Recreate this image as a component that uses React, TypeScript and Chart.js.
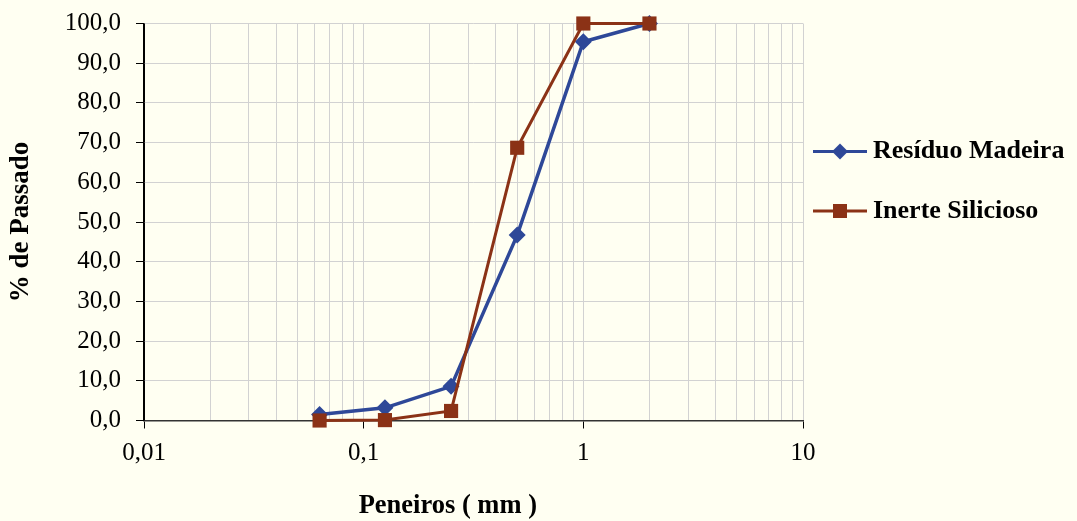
import React, { useEffect, useRef } from 'react';
import { Chart, registerables } from 'chart.js';

Chart.register(...registerables);

// ---- data ----
const sieveSizes = [0.063, 0.125, 0.25, 0.5, 1, 2];
const residuoMadeira = [1.5, 3.2, 8.6, 46.7, 95.4, 100.0];
const inerteSilicioso = [0.0, 0.1, 2.4, 68.7, 100.0, 100.0];
const seriesLabels = ['Resíduo Madeira', 'Inerte Silicioso'];
const seriesColors = ['#2E4898', '#8B3216'];

const xTickValues = [
  0.01, 0.02, 0.03, 0.04, 0.05, 0.06, 0.07, 0.08, 0.09,
  0.1, 0.2, 0.3, 0.4, 0.5, 0.6, 0.7, 0.8, 0.9,
  1, 2, 3, 4, 5, 6, 7, 8, 9,
  10,
];
const xMajorTicks = [0.01, 0.1, 1, 10];
const xTickLabels = ['0,01', '0,1', '1', '10'];
const xTitle = 'Peneiros ( mm )';
const yTitle = '% de Passado';

const FONT = "'Liberation Serif', 'Times New Roman', serif";
const BG = '#FFFFF2';
const GRID = '#D2D2D2';

const extrasPlugin = {
  id: 'extras',
  beforeDraw(chart: any) {
    const ctx = chart.ctx;
    ctx.save();
    ctx.fillStyle = BG;
    ctx.fillRect(0, 0, chart.width, chart.height);
    ctx.restore();
  },
  afterDraw(chart: any) {
    const ctx = chart.ctx;
    const area = chart.chartArea;
    ctx.save();
    // x axis title
    ctx.fillStyle = '#000';
    ctx.font = `bold 26.5px ${FONT}`;
    ctx.textAlign = 'center';
    ctx.textBaseline = 'middle';
    ctx.fillText(xTitle, area.left + (area.right - area.left) * 0.461, 506);

    // legend
    const rows = [151.5, 211];
    chart.data.datasets.forEach((ds: any, i: number) => {
      const y = rows[i];
      const x0 = area.right + 10;
      const x1 = x0 + 54;
      const xm = (x0 + x1) / 2;
      ctx.strokeStyle = ds.borderColor;
      ctx.lineWidth = 3;
      ctx.beginPath();
      ctx.moveTo(x0, y);
      ctx.lineTo(x1, y);
      ctx.stroke();
      ctx.fillStyle = ds.backgroundColor;
      ctx.beginPath();
      if (ds.pointStyle === 'rectRot') {
        const r = 8;
        ctx.moveTo(xm - r, y);
        ctx.lineTo(xm, y - r);
        ctx.lineTo(xm + r, y);
        ctx.lineTo(xm, y + r);
        ctx.closePath();
      } else {
        const h = 7;
        ctx.rect(xm - h, y - h, 2 * h, 2 * h);
      }
      ctx.fill();
      ctx.fillStyle = '#000';
      ctx.font = `bold 26px ${FONT}`;
      ctx.textAlign = 'left';
      ctx.textBaseline = 'middle';
      ctx.fillText(ds.label, x1 + 6, y);
    });
    ctx.restore();
  },
};

export default function App() {
  const canvasRef = useRef<HTMLCanvasElement | null>(null);

  useEffect(() => {
    document.body.style.margin = '0';
    document.body.style.background = BG;
    const canvas = canvasRef.current;
    if (!canvas) return;
    const chart = new Chart(canvas, {
      type: 'line',
      data: {
        datasets: [
          {
            label: seriesLabels[0],
            data: sieveSizes.map((x, i) => ({ x, y: residuoMadeira[i] })),
            borderColor: seriesColors[0],
            backgroundColor: seriesColors[0],
            borderWidth: 3.5,
            pointStyle: 'rectRot',
            pointRadius: 8.5,
            pointBorderWidth: 0,
            pointHoverRadius: 8.5,
            tension: 0,
            order: 1,
            clip: false,
          },
          {
            label: seriesLabels[1],
            data: sieveSizes.map((x, i) => ({ x, y: inerteSilicioso[i] })),
            borderColor: seriesColors[1],
            backgroundColor: seriesColors[1],
            borderWidth: 3,
            pointStyle: 'rect',
            pointRadius: 10,
            pointBorderWidth: 0,
            pointHoverRadius: 10,
            tension: 0,
            order: 0,
            clip: false,
          },
        ],
      },
      options: {
        responsive: false,
        animation: false,
        events: [],
        layout: { padding: { top: 23.5, right: 274, left: 0, bottom: 0 } },
        plugins: {
          legend: { display: false },
          tooltip: { enabled: false },
        },
        scales: {
          x: {
            type: 'logarithmic',
            min: 0.01,
            max: 10,
            afterBuildTicks: (scale: any) => {
              scale.ticks = xTickValues.map((v) => ({ value: v, major: xMajorTicks.includes(v) }));
            },
            afterFit: (scale: any) => {
              scale.height = 100.5;
            },
            grid: {
              color: (c: any) => (c.tick && c.tick.value === 0.01 ? '#000' : GRID),
              lineWidth: 1,
              tickLength: 8,
              tickColor: (c: any) =>
                c.tick && xMajorTicks.includes(c.tick.value) ? '#000' : 'rgba(0,0,0,0)',
            },
            border: { color: '#333', width: 1.5 },
            ticks: {
              autoSkip: false,
              maxRotation: 0,
              minRotation: 0,
              padding: 10,
              color: '#000',
              font: { family: FONT, size: 25 },
              callback: (v: any) => {
                const i = xMajorTicks.indexOf(Number(v));
                return i >= 0 ? xTickLabels[i] : '';
              },
            },
          },
          y: {
            min: 0,
            max: 100,
            afterFit: (scale: any) => {
              scale.width = 144;
              scale.paddingTop = 0;
              scale.paddingBottom = 0;
            },
            grid: {
              color: (c: any) => (c.tick && c.tick.value === 0 ? '#333' : GRID),
              lineWidth: 1,
              tickLength: 8,
              tickColor: '#000',
            },
            border: { color: '#000', width: 1.5 },
            ticks: {
              stepSize: 10,
              padding: 15,
              color: '#000',
              font: { family: FONT, size: 25 },
              callback: (v: any) => Number(v).toFixed(1).replace('.', ','),
            },
            title: {
              display: true,
              text: yTitle,
              color: '#000',
              font: { family: FONT, size: 27, weight: 'bold' },
              padding: { top: 5, bottom: 0 },
            },
          },
        },
      },
      plugins: [extrasPlugin],
    } as any);
    return () => chart.destroy();
  }, []);

  return (
    <div style={{ position: 'absolute', left: 0, top: 0, width: 1077, height: 521 }}>
      <canvas ref={canvasRef} width={1077} height={521} />
    </div>
  );
}
